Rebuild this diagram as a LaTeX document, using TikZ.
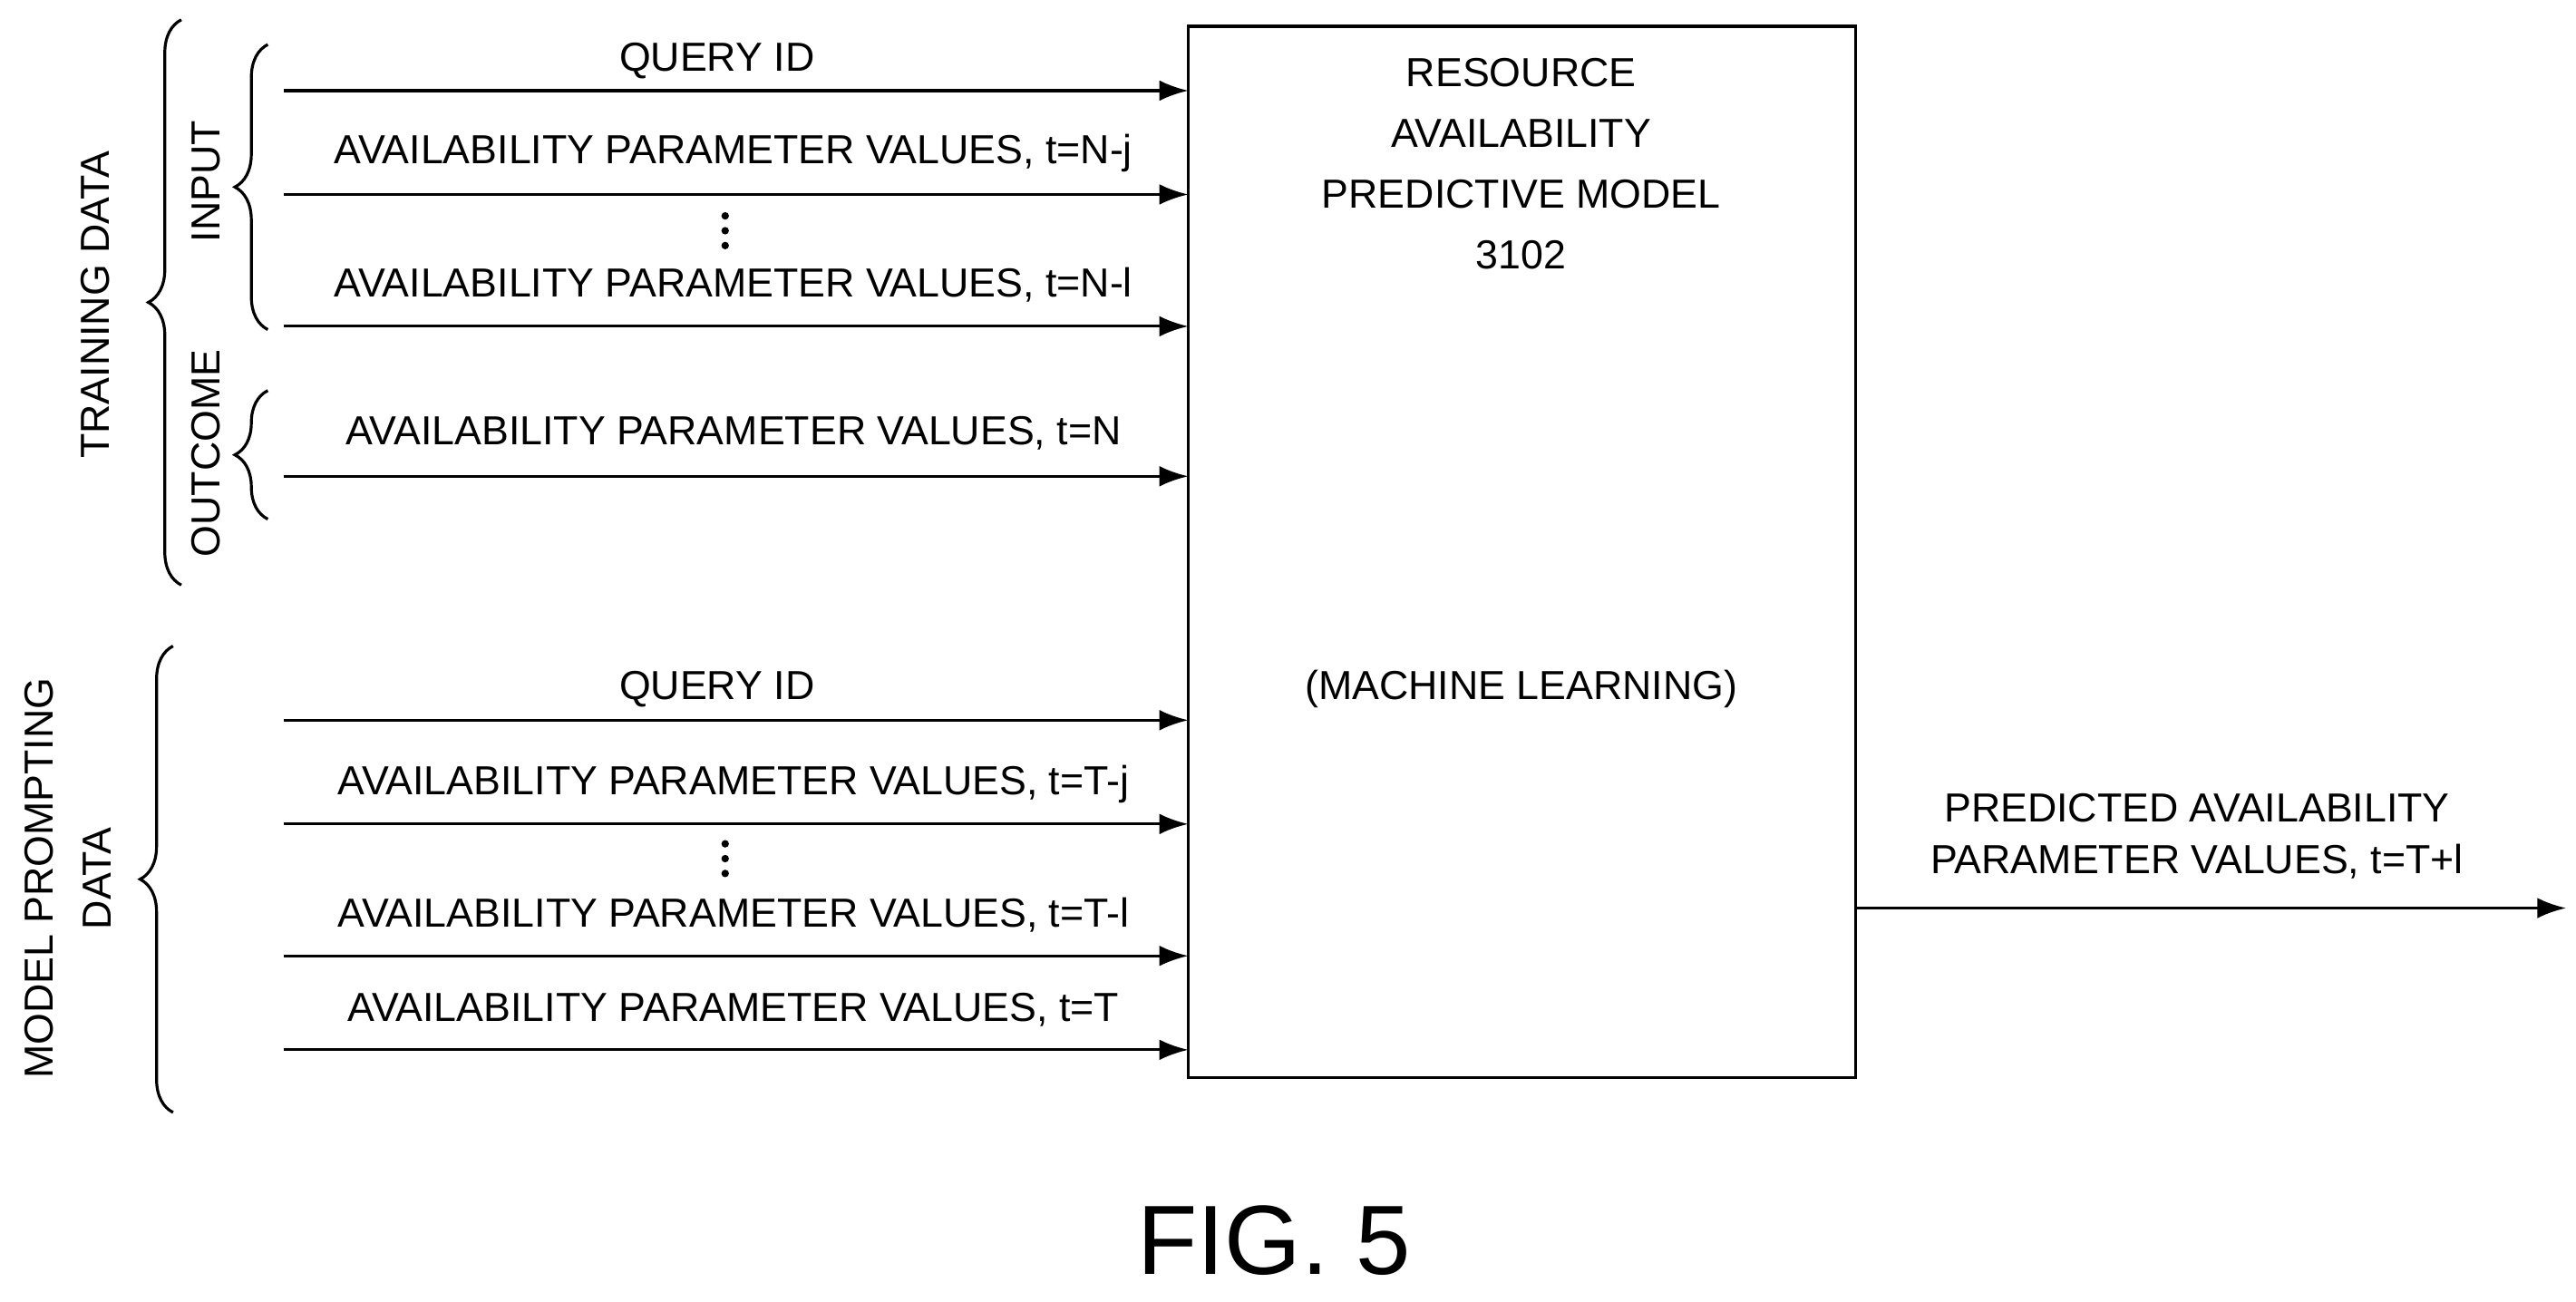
\documentclass[tikz,border=0pt]{standalone}
\usepackage{fontspec}
\setmainfont{Liberation Sans}
\usetikzlibrary{decorations.pathreplacing,arrows.meta}
\tikzset{
  feed/.style={-{Latex[length=3.5mm,width=2.5mm]}, line width=1pt},
  lbl/.style={font=\fontsize{14}{16}\selectfont, inner sep=1pt},
  side/.style={font=\fontsize{14}{16}\selectfont, rotate=90, align=center},
  curly/.style={decorate, decoration={brace, amplitude=0.4cm}, line width=1pt}
}
\begin{document}
\begin{tikzpicture}
	\useasboundingbox (0,0) rectangle (31.26,-15.8);

	% model block
	\node[draw, line width=1pt, minimum width=8.1cm, minimum height=12.76cm, inner sep=0pt] (model) at (18.47,-6.7) {};
	\node[lbl, align=center, anchor=north] (title) at (18.46,-0.66) {RESOURCE\\[5pt]AVAILABILITY\\[5pt]PREDICTIVE MODEL\\[5pt]3102};
	\node[lbl] (ml) at (18.46,-8.36) {(MACHINE LEARNING)};

	% input arrows
	\foreach \name/\y in {a/-1.1, b/-2.36, c/-3.96, d/-5.78, e/-8.74, f/-10.0, g/-11.6, h/-12.74}{
		\coordinate (\name s) at (3.44,\y);
		\coordinate (\name e) at (14.42,\y);
		\draw[feed] (\name s) -- (\name e);
	}

	% arrow labels
	\node[lbl] (qa) at (8.7,-0.74) {QUERY ID};
	\node[lbl] (pa) at (8.9,-1.86) {AVAILABILITY PARAMETER VALUES, t=N-j};
	\node[lbl] (pb) at (8.9,-3.46) {AVAILABILITY PARAMETER VALUES, t=N-l};
	\node[lbl] (pc) at (8.9,-5.26) {AVAILABILITY PARAMETER VALUES, t=N};
	\node[lbl] (qb) at (8.7,-8.36) {QUERY ID};
	\node[lbl] (pd) at (8.9,-9.52) {AVAILABILITY PARAMETER VALUES, t=T-j};
	\node[lbl] (pe) at (8.9,-11.1) {AVAILABILITY PARAMETER VALUES, t=T-l};
	\node[lbl] (pf) at (8.9,-12.26) {AVAILABILITY PARAMETER VALUES, t=T};

	% vertical dots
	\foreach \y in {-2.62,-2.8,-2.98}{
		\fill (8.8,\y) circle (1.3pt);
	}
	\foreach \y in {-10.24,-10.42,-10.6}{
		\fill (8.8,\y) circle (1.3pt);
	}

	% output
	\coordinate (out) at (31.14,-11.02);
	\draw[feed] (model.east |- out) -- (out);
	\node[lbl, align=center] (pred) at (26.66,-10.15) {PREDICTED AVAILABILITY\\[2pt]PARAMETER VALUES, t=T+l};

	% braces
	\draw[curly] (3.25,-4.0) -- (3.25,-0.54);
	\node[side] (inp) at (2.5,-2.2) {INPUT};
	\draw[curly] (3.25,-6.3) -- (3.25,-4.74);
	\node[side] (outc) at (2.5,-5.5) {OUTCOME};
	\draw[curly] (2.2,-7.1) -- (2.2,-0.24);
	\node[side] (train) at (1.16,-3.7) {TRAINING DATA};
	\draw[curly] (2.1,-13.5) -- (2.1,-7.84);
	\node[side] (prompt) at (0.82,-10.66) {MODEL PROMPTING\\[4pt]DATA};

	\node[font=\fontsize{34}{38}\selectfont] (fig) at (15.46,-15.05) {FIG. 5};
\end{tikzpicture}
\end{document}
